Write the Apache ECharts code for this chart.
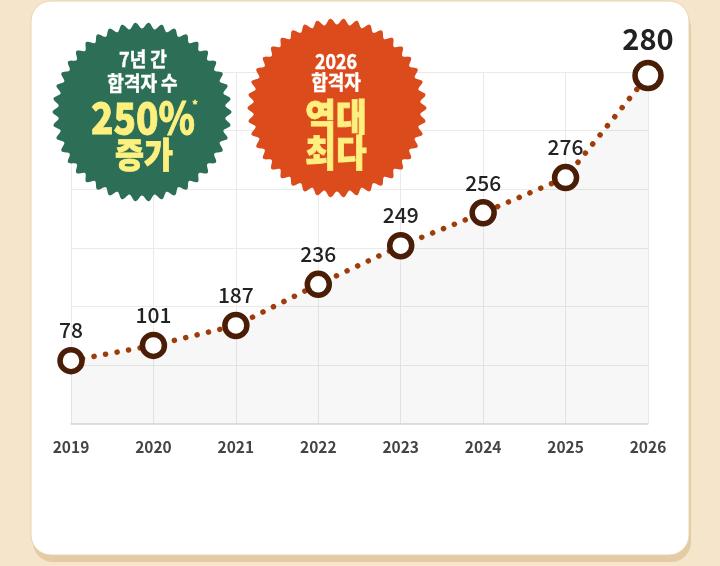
<!DOCTYPE html>
<html>
<head>
<meta charset="utf-8">
<script src="https://cdn.jsdelivr.net/npm/echarts@6/dist/echarts.min.js"></script>
<style>
html,body{margin:0;padding:0;background:#f5e6cb;}
#chart{width:720px;height:566px;}
</style>
</head>
<body>
<div id="chart"></div>
<script>
// ---- data ----
const years = ['2019', '2020', '2021', '2022', '2023', '2024', '2025', '2026'];
const passCounts = [78, 101, 187, 236, 249, 256, 276, 280];          // value labels shown on the chart
const plotHeights = [54, 67, 84, 119, 152, 180, 210, 297];           // vertical placement (0–300 scale)
const yTicks = [0, 50, 100, 150, 200, 250, 300];

const FONT = '"Noto Sans CJK KR", "Noto Sans", sans-serif';

function scallop(cx, cy, R, amp, teeth) {
  const pts = [];
  const n = 720;
  for (let i = 0; i < n; i++) {
    const t = i / n * Math.PI * 2;
    const r = R + amp * Math.cos(teeth * t);
    pts.push([cx + r * Math.cos(t), cy + r * Math.sin(t)]);
  }
  return pts;
}

function txt(x, y, text, size, color, weight, sx) {
  return {
    type: 'text', x: x, y: y, scaleX: sx || 1, z: 110,
    style: {
      text: text, x: 0, y: 0, fill: color,
      font: (weight || 'bold') + ' ' + size + 'px ' + FONT,
      textAlign: 'center', textVerticalAlign: 'middle',
      align: 'center', verticalAlign: 'middle',
      stroke: color, lineWidth: weight === 900 ? 0.8 : 0.5
    }
  };
}

const seriesData = plotHeights.map((v, i) => {
  const last = i === plotHeights.length - 1;
  return {
    value: v,
    symbolSize: last ? 26 : 22,
    label: last ? { fontSize: 29, fontWeight: 'bold', distance: 6 } : undefined
  };
});

const chart = echarts.init(document.getElementById('chart'), null, { renderer: 'canvas' });
chart.setOption({
  backgroundColor: '#f5e6cb',
  animation: false,
  grid: { left: 71, right: 72, top: 72, bottom: 142 },
  xAxis: {
    type: 'category',
    data: years,
    boundaryGap: false,
    axisLine: { show: true, lineStyle: { color: '#dcdcdc', width: 1.5 } },
    axisTick: { show: false },
    axisLabel: { color: '#444', fontSize: 15.5, fontWeight: 'bold', fontFamily: FONT, margin: 15 },
    splitLine: { show: true, lineStyle: { color: '#eaeaea', width: 1 } },
    z: 1
  },
  yAxis: {
    type: 'value',
    min: yTicks[0],
    max: yTicks[yTicks.length - 1],
    interval: yTicks[1] - yTicks[0],
    axisLabel: { show: false },
    axisLine: { show: false },
    axisTick: { show: false },
    splitLine: { show: true, lineStyle: { color: '#eaeaea', width: 1 } },
    z: 1
  },
  series: [{
    type: 'line',
    data: seriesData,
    z: 5,
    symbol: 'circle',
    symbolSize: 22,
    showAllSymbol: true,
    itemStyle: { color: '#ffffff', borderColor: '#4a1d07', borderWidth: 5.5 },
    lineStyle: { color: '#9e3d0b', width: 5.5, type: [0.1, 11.6], cap: 'round' },
    areaStyle: { color: 'rgba(0,0,0,0.042)', origin: 'start' },
    label: {
      show: true,
      position: 'top',
      distance: 6,
      color: '#222',
      fontSize: 21,
      fontWeight: 500,
      fontFamily: FONT,
      formatter: p => String(passCounts[p.dataIndex])
    },
    emphasis: { disabled: true }
  }],
  graphic: [
    // card shadow & card
    { type: 'rect', z: -20, silent: true, shape: { x: 33, y: 8, width: 658, height: 554, r: 20 }, style: { fill: '#e4cba3' } },
    { type: 'rect', z: -19, silent: true, shape: { x: 31, y: 1, width: 658, height: 554, r: 20 }, style: { fill: '#ffffff', stroke: '#e8d4b3', lineWidth: 1 } },
    // badges
    { type: 'polygon', z: 100, silent: true, shape: { points: scallop(142, 112, 86.5, 3, 42) }, style: { fill: '#2d6e56' } },
    { type: 'polygon', z: 100, silent: true, shape: { points: scallop(337, 108, 86.5, 3, 42) }, style: { fill: '#dc4b1b' } },
    txt(143, 59, '7년 간', 20, '#ffffff', 'bold', 0.9),
    txt(142.5, 83, '합격자 수', 20, '#ffffff', 'bold', 0.9),
    txt(143, 118, '250%', 43, '#fdf07f', 900, 0.86),
    txt(195, 105, '*', 11, '#fdf07f', 'bold', 1),
    txt(144, 155, '증가', 35, '#fdf07f', 900, 0.9),
    txt(336, 61, '2026', 21, '#ffffff', 'bold', 0.85),
    txt(336, 82.5, '합격자', 20, '#ffffff', 'bold', 0.9),
    txt(336, 117, '역대', 37, '#fdf07f', 900, 0.9),
    txt(336, 152.5, '최다', 37, '#fdf07f', 900, 0.9)
  ]
});
</script>
</body>
</html>
